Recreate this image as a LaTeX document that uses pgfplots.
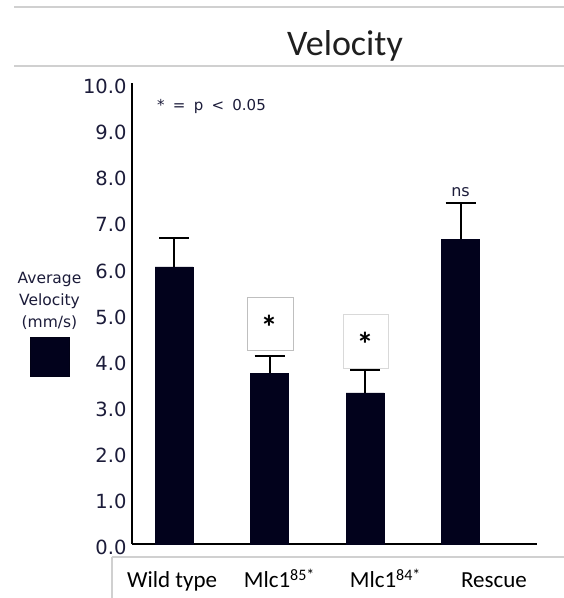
\documentclass[border=0pt]{standalone}
\usepackage{fontspec}
\usepackage{pgfplots}
\usepackage{pgfplotstable}
\pgfplotsset{compat=1.18}
\newfontfamily\verd{DejaVu Sans}
\newfontfamily\calib{Carlito}
\definecolor{barfill}{RGB}{2,2,28}
\definecolor{navy}{RGB}{28,28,58}
\definecolor{rulegray}{RGB}{208,208,208}

% mean velocity and upper error
\pgfplotstableread{
x y ey
0 6.01 0.62
1 3.70 0.38
2 3.28 0.49
3 6.61 0.79
}\velocity

\begin{document}
\begin{tikzpicture}[x=1pt,y=1pt]
\useasboundingbox (0,0) rectangle (564,-598);
\fill[white] (0,0) rectangle (564,-598);
% frame rules
\draw[rulegray, line width=1.2pt] (14,-7) -- (564,-7);
\draw[rulegray, line width=1.2pt] (14,-66) -- (564,-66);
\draw[rulegray, line width=1.2pt] (112,-557) -- (564,-557);
\draw[rulegray, line width=1.2pt] (112,-557) -- (112,-598);
\node[anchor=base, inner sep=0pt, font=\calib\fontsize{36}{36}\selectfont, text=black!88] at (345,-55) {Velocity};

\begin{axis}[
  at={(132pt,-544pt)}, anchor=south west,
  scale only axis, width=405pt, height=461pt,
  xmin=-0.44, xmax=3.80, ymin=0, ymax=10,
  axis x line=bottom, axis y line=left,
  axis line style={-, line width=2.2pt, black},
  major tick length=0pt,
  ybar, bar width=38pt,
  ytick={0,1,...,10},
  xtick={-0.02,1.10,2.21,3.35},
  xticklabels={{Wild type},{Mlc1\raisebox{7pt}{\fontsize{16}{16}\selectfont 85*}},{Mlc1\raisebox{7pt}{\fontsize{16}{16}\selectfont 84*}},{Rescue}},
  xticklabel style={font=\calib\fontsize{23}{23}\selectfont, text=black, anchor=base, yshift=-43pt},
  yticklabel style={font=\verd\fontsize{19.5}{19.5}\selectfont, text=navy, anchor=east, xshift=-2pt, yshift=-3.5pt,
    /pgf/number format/fixed, /pgf/number format/fixed zerofill,
    /pgf/number format/precision=1, /pgf/number format/assume math mode=true},
  clip=false,
]
\addplot[fill=barfill, draw=barfill, bar shift=0pt,
  error bars/.cd, y dir=plus, y explicit,
  error bar style={line width=2pt, black},
  error mark options={rotate=90, line width=2pt, black, mark size=15pt}]
  table[x=x, y=y, y error=ey] {\velocity};

% significance boxes
\draw[fill=white, draw=gray!50, line width=0.8pt] (axis cs:0.764,4.19) rectangle (axis cs:1.246,5.36);
\draw[fill=white, draw=gray!30, line width=0.8pt] (axis cs:1.770,3.82) rectangle (axis cs:2.241,4.99);
\node[anchor=base, inner sep=0pt, font=\calib\bfseries\fontsize{34}{34}\selectfont] at (axis cs:0.995,4.44) {*};
\node[anchor=base, inner sep=0pt, font=\calib\bfseries\fontsize{34}{34}\selectfont] at (axis cs:2.0,4.07) {*};
\node[anchor=base, inner sep=0pt, font=\verd\fontsize{16}{16}\selectfont, text=navy] at (axis cs:3.0,7.53) {ns};
\end{axis}

% significance key
\node[anchor=base west, inner sep=0pt, font=\verd\fontsize{15}{15}\selectfont, text=navy] at (157,-110)
  {*\hspace{3.5pt} =\hspace{3.5pt} p\hspace{3.5pt} <\hspace{3.5pt} 0.05};

% legend
\node[anchor=base, inner sep=0pt, font=\verd\fontsize{15.5}{15.5}\selectfont, text=navy] at (49.5,-283) {Average};
\node[anchor=base, inner sep=0pt, font=\verd\fontsize{15.5}{15.5}\selectfont, text=navy] at (49.5,-305) {Velocity};
\node[anchor=base, inner sep=0pt, font=\verd\fontsize{15.5}{15.5}\selectfont, text=navy] at (49.5,-327) {(mm/s)};
\draw[barfill!80!black, fill=barfill] (30,-337) rectangle (69,-376);
\end{tikzpicture}
\end{document}
